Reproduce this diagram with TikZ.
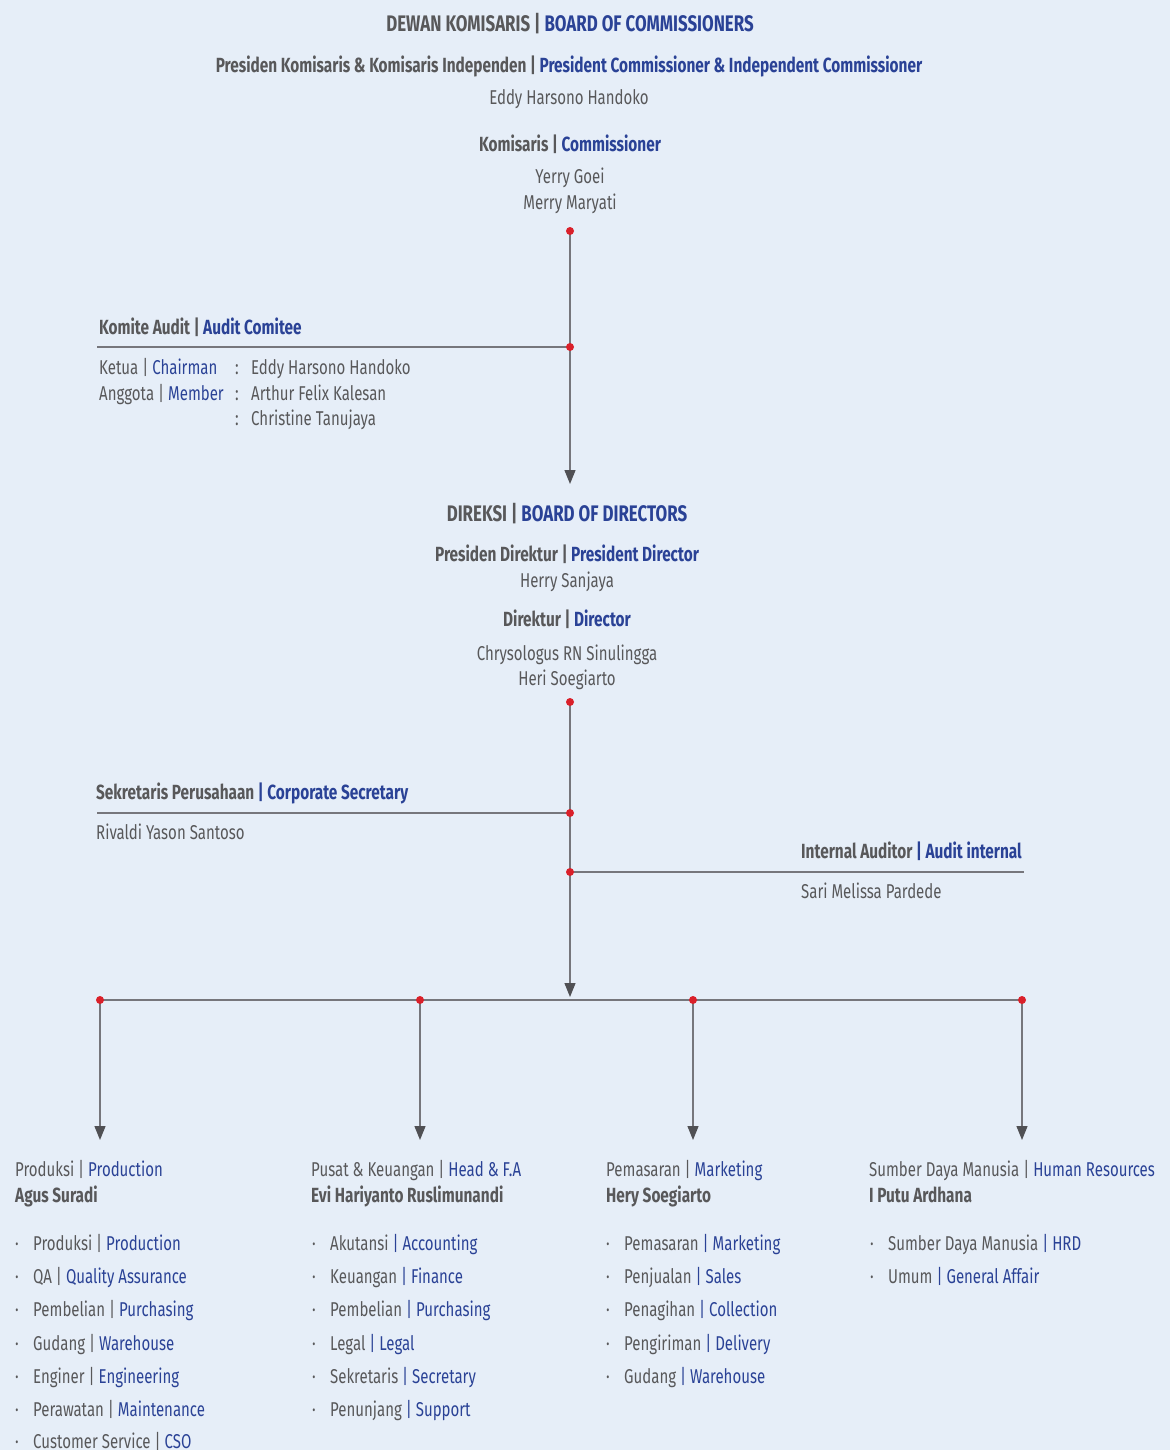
\documentclass[tikz,border=0pt]{standalone}
\usepackage{fontspec}
\setmainfont{Fira Sans}[FakeStretch=0.75]
\usetikzlibrary{arrows.meta}
\definecolor{bg}{RGB}{230,238,248}
\definecolor{txt}{RGB}{88,88,90}
\definecolor{blu}{RGB}{42,66,150}
\definecolor{ln}{RGB}{118,118,124}
\definecolor{tipc}{RGB}{80,80,84}
\definecolor{dotred}{RGB}{218,32,42}
\newcommand{\bl}[1]{\textcolor{blu}{#1}}
\tikzset{
  t/.style={inner sep=0pt, text=txt, font=\fontsize{20}{24}\selectfont, text height=14pt, text depth=0pt},
  th/.style={t, font=\fontsize{20.5}{24}\selectfont\bfseries},
  ttl/.style={t, font=\fontsize{22.5}{26}\selectfont\bfseries, text height=16pt},
  conn/.style={draw=ln, line width=1.3pt},
  arr/.style={conn, -{Triangle[width=11pt,length=14pt,color=tipc]}},
  rdot/.style={circle, fill=dotred, inner sep=0pt, minimum size=8pt},
}
\newcommand{\blt}[4]{\node[t,anchor=west] (#3) at (#1,#2) {\makebox[18pt][l]{·}#4};}
\begin{document}
\begin{tikzpicture}[x=1pt,y=-1pt]
\fill[bg] (0,0) rectangle (1170,1450);
\useasboundingbox (0,0) rectangle (1170,1450);

% Board of commissioners
\node[ttl] (boc) at (570,24) {DEWAN KOMISARIS | \bl{BOARD OF COMMISSIONERS}};
\node[th] (pk) at (569,66) {Presiden Komisaris \& Komisaris Independen | \bl{President Commissioner \& Independent Commissioner}};
\node[t] (pkn) at (569,98) {Eddy Harsono Handoko};
\node[th] (km) at (570,145) {Komisaris | \bl{Commissioner}};
\node[t] (km1) at (570,177) {Yerry Goei};
\node[t] (km2) at (570,202) {Merry Maryati};

% Connectors top
\coordinate (d1) at (570,231);
\coordinate (d2) at (570,347);
\coordinate (audL) at (97,347);
\coordinate (a1) at (570,484);
\draw[arr] (d1) -- (a1);
\draw[conn] (d2) -- (audL);

% Audit committee
\node[th,anchor=west] (ka) at (99,327) {Komite Audit | \bl{Audit Comitee}};
\node[t,anchor=west] (k1) at (99,367) {Ketua | \bl{Chairman}};
\node[t,anchor=west] (k2) at (99,393) {Anggota | \bl{Member}};
\node[t,anchor=west] (c1) at (235,367) {:};
\node[t,anchor=west] (c2) at (235,393) {:};
\node[t,anchor=west] (c3) at (235,418) {:};
\node[t,anchor=west] (m1) at (251,367) {Eddy Harsono Handoko};
\node[t,anchor=west] (m2) at (251,393) {Arthur Felix Kalesan};
\node[t,anchor=west] (m3) at (251,418) {Christine Tanujaya};

% Board of directors
\node[ttl] (bod) at (567,513) {DIREKSI | \bl{BOARD OF DIRECTORS}};
\node[th] (pd) at (567,554) {Presiden Direktur | \bl{President Director}};
\node[t] (pdn) at (567,580) {Herry Sanjaya};
\node[th] (dr) at (567,619) {Direktur | \bl{Director}};
\node[t] (dr1) at (567,653) {Chrysologus RN Sinulingga};
\node[t] (dr2) at (567,678) {Heri Soegiarto};

\coordinate (d3) at (570,702);
\coordinate (d4) at (570,813);
\coordinate (d5) at (570,872);
\coordinate (csL) at (97,813);
\coordinate (iaR) at (1024,872);
\coordinate (a2) at (570,997);
\draw[arr] (d3) -- (a2);
\draw[conn] (d4) -- (csL);
\draw[conn] (d5) -- (iaR);

\node[th,anchor=west] (cs) at (96,792) {Sekretaris Perusahaan \bl{| Corporate Secretary}};
\node[t,anchor=west] (csn) at (96,832) {Rivaldi Yason Santoso};
\node[th,anchor=east] (ia) at (1022,851) {Internal Auditor \bl{| Audit internal}};
\node[t,anchor=west] (ian) at (801,891) {Sari Melissa Pardede};

% Bottom distribution line
\coordinate (b1) at (100,1000);
\coordinate (b2) at (420,1000);
\coordinate (b3) at (693,1000);
\coordinate (b4) at (1022,1000);
\coordinate (e1) at (100,1140);
\coordinate (e2) at (420,1140);
\coordinate (e3) at (693,1140);
\coordinate (e4) at (1022,1140);
\draw[conn] (b1) -- (b4);
\draw[arr] (b1) -- (e1);
\draw[arr] (b2) -- (e2);
\draw[arr] (b3) -- (e3);
\draw[arr] (b4) -- (e4);

% red dots
\foreach \p in {d1,d2,d3,d4,d5,b1,b2,b3,b4} \node[rdot] at (\p) {};

% Column 1
\node[t,anchor=west] (h1) at (15,1169) {Produksi | \bl{Production}};
\node[th,anchor=west] (n1) at (15,1195) {Agus Suradi};
\blt{15}{1243}{c1a}{Produksi | \bl{Production}}
\blt{15}{1276}{c1b}{QA | \bl{Quality Assurance}}
\blt{15}{1309}{c1c}{Pembelian | \bl{Purchasing}}
\blt{15}{1343}{c1d}{Gudang | \bl{Warehouse}}
\blt{15}{1376}{c1e}{Enginer | \bl{Engineering}}
\blt{15}{1409}{c1f}{Perawatan | \bl{Maintenance}}
\blt{15}{1441}{c1g}{Customer Service | \bl{CSO}}

% Column 2
\node[t,anchor=west] (h2) at (311,1169) {Pusat \& Keuangan | \bl{Head \& F.A}};
\node[th,anchor=west] (n2) at (311,1195) {Evi Hariyanto Ruslimunandi};
\blt{312}{1243}{c2a}{Akutansi \bl{| Accounting}}
\blt{312}{1276}{c2b}{Keuangan \bl{| Finance}}
\blt{312}{1309}{c2c}{Pembelian \bl{| Purchasing}}
\blt{312}{1343}{c2d}{Legal \bl{| Legal}}
\blt{312}{1376}{c2e}{Sekretaris \bl{| Secretary}}
\blt{312}{1409}{c2f}{Penunjang \bl{| Support}}

% Column 3
\node[t,anchor=west] (h3) at (606,1169) {Pemasaran | \bl{Marketing}};
\node[th,anchor=west] (n3) at (606,1195) {Hery Soegiarto};
\blt{606}{1243}{c3a}{Pemasaran \bl{| Marketing}}
\blt{606}{1276}{c3b}{Penjualan \bl{| Sales}}
\blt{606}{1309}{c3c}{Penagihan \bl{| Collection}}
\blt{606}{1343}{c3d}{Pengiriman \bl{| Delivery}}
\blt{606}{1376}{c3e}{Gudang \bl{| Warehouse}}

% Column 4
\node[t,anchor=west] (h4) at (869,1169) {Sumber Daya Manusia | \bl{Human Resources}};
\node[th,anchor=west] (n4) at (869,1195) {I Putu Ardhana};
\blt{870}{1243}{c4a}{Sumber Daya Manusia \bl{| HRD}}
\blt{870}{1276}{c4b}{Umum \bl{| General Affair}}
\end{tikzpicture}
\end{document}
